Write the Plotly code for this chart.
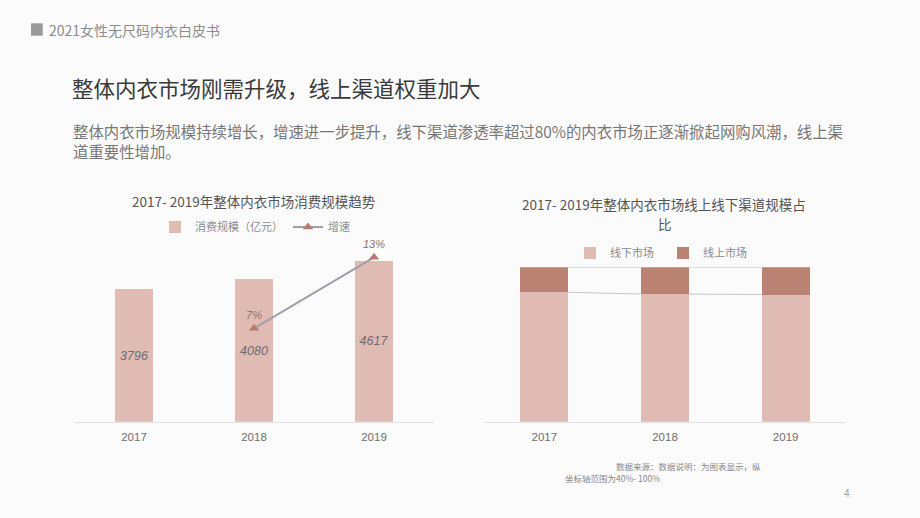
import plotly.graph_objects as go

W, H = 920, 518

# ---------------- data ----------------
years = ["2017", "2018", "2019"]
consumption = [3796, 4080, 4617]          # 消费规模（亿元）
growth_years = ["2018", "2019"]
growth = [7, 13]                           # 增速 %
offline_share = [90.3, 89.6, 89.4]         # 线下市场 %
online_share = [round(100 - v, 1) for v in offline_share]  # 线上市场 %

CJK = "Noto Sans CJK SC"
LAT = "Liberation Sans"
BG = "#fbfbfb"
BAR = "#dfbbb4"
BAR_DARK = "#b98273"

def px(x):
    return x / W

def py(y):
    return 1 - y / H

fig = go.Figure()

# ---------------- left chart ----------------
fig.add_trace(go.Bar(
    x=years, y=consumption, name="消费规模（亿元）",
    marker=dict(color=BAR, line=dict(width=0)), width=0.32,
    text=[str(v) for v in consumption], textposition="inside",
    insidetextanchor="middle", textangle=0,
    textfont=dict(family=LAT, size=12.5, color="#6d6d6d", style="italic"),
    xaxis="x", yaxis="y", legend="legend",
))
fig.add_trace(go.Scatter(
    x=growth_years, y=growth, name="增速", mode="lines+markers+text",
    line=dict(color="#a29ca8", width=2),
    marker=dict(symbol="triangle-up", size=9, color="#b57c6e"),
    text=[f"{v}%" for v in growth], textposition="top center",
    textfont=dict(family=LAT, size=11, color="#8c706a", style="italic"),
    xaxis="x", yaxis="y2", legend="legend",
))

# ---------------- right chart ----------------
idx = list(range(len(years)))
bw = 0.4
fig.add_trace(go.Bar(
    x=idx, y=offline_share, name="线下市场", width=bw,
    marker=dict(color=BAR, line=dict(width=0)),
    xaxis="x3", yaxis="y3", legend="legend2",
))
fig.add_trace(go.Bar(
    x=idx, y=online_share, name="线上市场", width=bw,
    marker=dict(color=BAR_DARK, line=dict(width=0)),
    xaxis="x3", yaxis="y3", legend="legend2",
))
# series lines between bars
for i in range(len(idx) - 1):
    for ys in ([100, 100], [offline_share[i], offline_share[i + 1]]):
        fig.add_trace(go.Scatter(
            x=[idx[i] + bw / 2, idx[i + 1] - bw / 2], y=ys, mode="lines",
            line=dict(color="#c6c6c6", width=1), showlegend=False,
            hoverinfo="skip", xaxis="x3", yaxis="y3",
        ))

base_y = 421.7
fig.update_layout(
    width=W, height=H, margin=dict(l=0, r=0, t=0, b=0),
    paper_bgcolor=BG, plot_bgcolor="rgba(0,0,0,0)",
    barmode="stack", showlegend=True,
    font=dict(family=CJK, color="#777"),
    xaxis=dict(domain=[px(74), px(434)], type="category", range=[-0.5, 2.5],
               showgrid=False, zeroline=False, showline=True, linecolor="#e2e2e2",
               linewidth=1, ticks="outside", ticklen=4, tickcolor="rgba(0,0,0,0)",
               tickfont=dict(family=LAT, size=11.5, color="#6f6f6f"), anchor="y"),
    yaxis=dict(domain=[py(base_y), py(230)], range=[0, 5500], visible=False),
    yaxis2=dict(domain=[py(base_y), py(230)], range=[-0.89, 15.31], overlaying="y",
                visible=False, anchor="x"),
    xaxis3=dict(domain=[px(484), px(846)], range=[-0.5, 2.5], tickvals=idx, ticktext=years,
                showgrid=False, zeroline=False, showline=True, linecolor="#e2e2e2",
                linewidth=1, ticks="outside", ticklen=4, tickcolor="rgba(0,0,0,0)",
                tickfont=dict(family=LAT, size=11.5, color="#6f6f6f"), anchor="y3"),
    yaxis3=dict(domain=[py(base_y), py(267.3)], range=[40, 100], visible=False, anchor="x3"),
    legend=dict(orientation="h", x=px(155), y=py(227), xanchor="left", yanchor="middle",
                font=dict(family=CJK, size=11, color="#8c8c8c"), bgcolor="rgba(0,0,0,0)",
                itemwidth=30, traceorder="normal"),
    legend2=dict(orientation="h", x=px(570), y=py(253), xanchor="left", yanchor="middle",
                 font=dict(family=CJK, size=11, color="#8c8c8c"), bgcolor="rgba(0,0,0,0)",
                 itemwidth=30, entrywidth=48, traceorder="normal"),
)

# header square
fig.add_shape(type="rect", xref="paper", yref="paper",
              x0=px(31), x1=px(42.7), y0=py(35.7), y1=py(23.3),
              fillcolor="#9a9a9a", line=dict(width=0))

def note(text, x, y, size, color, family=CJK, xanchor="left"):
    fig.add_annotation(text=text, x=px(x), y=py(y), xref="paper", yref="paper",
                       xanchor=xanchor, yanchor="middle", showarrow=False, align="left",
                       font=dict(family=family, size=size, color=color))

note("2021女性无尺码内衣白皮书", 47, 30, 14, "#8c8c8c")
note("整体内衣市场刚需升级，线上渠道权重加大", 70, 87, 21.5, "#3a3a3a")
note("整体内衣市场规模持续增长，增速进一步提升，线下渠道渗透率超过80%的内衣市场正逐渐掀起网购风潮，线上渠"
     "<br>道重要性增加。", 71, 140.5, 15.4, "#777777")
note("2017- 2019年整体内衣市场消费规模趋势", 253, 201, 13.5, "#555555", xanchor="center")
note("2017- 2019年整体内衣市场线上线下渠道规模占", 664, 204, 13.5, "#555555", xanchor="center")
note("比", 665, 224, 13.5, "#555555", xanchor="center")
note("数据来源：数据说明：为图表显示，纵", 614, 466, 8.5, "#8a8a8a")
note("坐标轴范围为40%- 100%", 563, 478, 8.5, "#8a8a8a")
note("4", 847, 493, 10, "#a0a0a0", family=LAT, xanchor="center")

fig.write_html("out.html", config={"displayModeBar": False},
               post_script="document.body.style.margin='0';"
               "document.body.style.background='#fbfbfb';")
